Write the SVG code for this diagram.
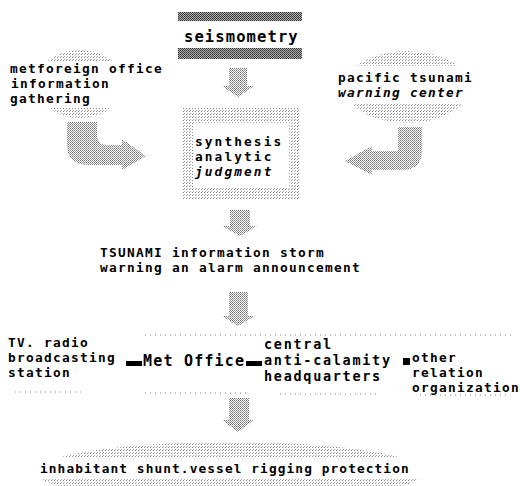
<svg xmlns="http://www.w3.org/2000/svg" width="520" height="486" viewBox="0 0 520 486">
<defs>
<pattern id="pd" width="2" height="2" patternUnits="userSpaceOnUse"><rect width="2" height="2" fill="#b0b0b0"/><rect width="1" height="1" fill="#333"/><rect x="1" y="1" width="1" height="1" fill="#444"/></pattern>
<pattern id="pm" width="2" height="2" patternUnits="userSpaceOnUse"><rect width="2" height="2" fill="#fff"/><rect width="1" height="1" fill="#777"/><rect x="1" y="1" width="1" height="1" fill="#999"/></pattern>
<pattern id="pl" width="3" height="3" patternUnits="userSpaceOnUse"><rect width="3" height="3" fill="#fff"/><rect width="1" height="1" fill="#888"/><rect x="1" y="2" width="1" height="1" fill="#aaa"/></pattern>
</defs>
<style>
text{font-family:"DejaVu Sans Mono","Liberation Mono",monospace;font-weight:bold;fill:#000;font-size:12.8px;letter-spacing:1.3px}
.big{letter-spacing:2.1px}
.huge{font-size:15px;letter-spacing:1.2px}
.it{font-style:italic}
.arrow{fill:url(#pm)}
.faint{stroke:#aaa;stroke-width:1.5;stroke-dasharray:1 4;fill:none}
</style>
<g id="seismometry">
<rect x="178" y="12" width="124" height="9" fill="url(#pd)"/>
<rect x="178" y="48" width="124" height="11" fill="url(#pd)"/>
<text class="huge" x="184" y="42" style="letter-spacing:1.1px;font-size:15.5px">seismometry</text>
</g>
<g id="metforeign">
<ellipse cx="80" cy="84" rx="44" ry="34" fill="url(#pl)"/>
<rect x="0" y="61" width="175" height="47" fill="#fff"/>
<text x="10" y="73">metforeign office</text>
<text x="11" y="88">information</text>
<text x="10" y="103">gathering</text>
</g>
<g id="pacific">
<ellipse cx="407" cy="87" rx="62" ry="36" fill="url(#pl)"/>
<rect x="330" y="66" width="160" height="38" fill="#fff"/>
<text x="338" y="82">pacific tsunami</text>
<text class="it" x="338" y="97">warning center</text>
</g>
<g id="synthesis">
<path d="M182,108 H300 V200 H182 Z M193,123 V187 H289 V123 Z" fill="url(#pl)" fill-rule="evenodd"/>
<text class="big" x="195" y="146">synthesis</text>
<text class="big" x="195" y="161">analytic</text>
<text class="big it" x="195" y="176">judgment</text>
</g>
<g id="tsunami-info">
<text x="100" y="257">TSUNAMI information storm</text>
<text x="100" y="272">warning an alarm announcement</text>
</g>
<g id="tv-radio">
<text x="8" y="347">TV. radio</text>
<text x="8" y="362">broadcasting</text>
<text x="8" y="377">station</text>
</g>
<g id="met-office">
<text class="huge" x="143" y="366" style="letter-spacing:1.2px">Met Office</text>
</g>
<g id="central">
<text class="big" x="264" y="349" style="font-size:13.5px;letter-spacing:1.7px">central</text>
<text class="big" x="264" y="365" style="font-size:13.5px;letter-spacing:1.7px">anti-calamity</text>
<text class="big" x="264" y="381" style="font-size:13.5px;letter-spacing:1.7px">headquarters</text>
</g>
<g id="other">
<text x="412" y="362">other</text>
<text x="412" y="377">relation</text>
<text x="412" y="392">organization</text>
</g>
<g id="inhabitant">
<ellipse cx="230" cy="472" rx="195" ry="30" fill="url(#pl)"/>
<rect x="0" y="458" width="520" height="21" fill="#fff"/>
<text x="40" y="473" style="letter-spacing:1.1px">inhabitant shunt.vessel rigging protection</text>
</g>
<g id="connectors">
<path class="arrow" d="M229,68 H247 V86 H254 L238,97 L222,86 H229 Z"/>
<path class="arrow" d="M67,122 H97 V135 Q97,145 107,145 H122 V139 L146,156 L122,170 V165 H90 Q67,165 67,145 Z"/>
<path class="arrow" d="M398,127 H422 V150 Q422,170 402,170 H372 V175 L345,161 L372,146 V151 H398 Z"/>
<path class="arrow" d="M230,210 H250 V226 H257 L240,236 L222,226 H230 Z"/>
<path class="arrow" d="M229,292 H248 V316 H255 L238,326 L222,316 H229 Z"/>
<path class="arrow" d="M229,398 H249 V420 H254 L238,432 L222,420 H229 Z"/>
<rect x="126" y="361" width="16" height="5" fill="#000"/>
<rect x="246" y="361" width="16" height="5" fill="#000"/>
<rect x="403" y="358" width="7" height="7" fill="#000"/>
<line class="faint" x1="145" y1="335" x2="515" y2="335"/>
<line class="faint" x1="15" y1="392" x2="85" y2="392"/>
<line class="faint" x1="145" y1="393" x2="250" y2="393"/>
<line class="faint" x1="280" y1="394" x2="380" y2="394"/>
<line class="faint" x1="420" y1="395" x2="510" y2="395"/>
</g>
</svg>
